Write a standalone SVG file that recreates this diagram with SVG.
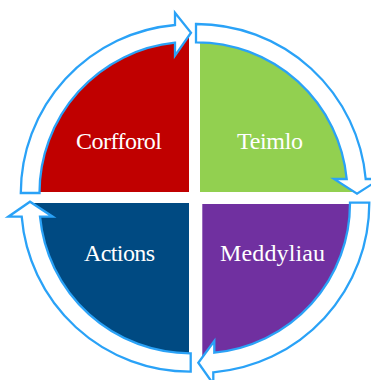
<svg xmlns="http://www.w3.org/2000/svg" width="371" height="380" viewBox="0 0 371 380">
<style>
text{font-family:"Liberation Serif","DejaVu Serif",serif;font-size:24px;fill:#fff;text-anchor:middle}
.arrow{fill:#fff;stroke:#2AA2F7;stroke-width:2.3;stroke-linejoin:miter}
</style>
<rect width="371" height="380" fill="#fff"/>
<g id="corfforol">
<path d="M189,192 H39.5 A151,151 0 0 1 175,42.7 L189,33 Z" fill="#C00000"/>
<text x="119" y="149" textLength="86">Corfforol</text>
</g>
<g id="teimlo">
<path d="M200,192 V42.3 A151,151 0 0 1 346.7,179 L357,192 Z" fill="#92D050"/>
<text x="270" y="149" textLength="66">Teimlo</text>
</g>
<g id="meddyliau">
<path d="M202.3,204 H350 A150,150 0 0 1 214.3,352.7 L202.3,358 Z" fill="#7030A0"/>
<text x="272.5" y="261" textLength="105">Meddyliau</text>
</g>
<g id="actions">
<path d="M189,203 H31 L40,216.7 A151,151 0 0 0 189,353.3 Z" fill="#004A82"/>
<text x="119.5" y="261" textLength="71">Actions</text>
</g>
<g id="connectors">
<path class="arrow" d="M20.8,193 H39.5 A151,151 0 0 1 175,42.7 V55.7 L191,32.7 L175,12.7 V25 A169,169 0 0 0 20.8,193 Z"/>
<path class="arrow" d="M196,24 V42.3 A151,151 0 0 1 346.7,179 H334 L357,193.7 L380,179 H365.7 A170,170 0 0 0 196,24 Z"/>
<path class="arrow" d="M369.3,202.7 H350 A150,150 0 0 1 214.3,352.7 V341 L198.3,362.7 L213.3,384 V372.3 A170,170 0 0 0 369.3,202.7 Z"/>
<path class="arrow" d="M190.7,353.3 V371.7 A169,169 0 0 1 21.7,216.7 H8.3 L30,201.7 L52.7,216.7 H40 A151,151 0 0 0 190.7,353.3 Z"/>
</g>
</svg>
